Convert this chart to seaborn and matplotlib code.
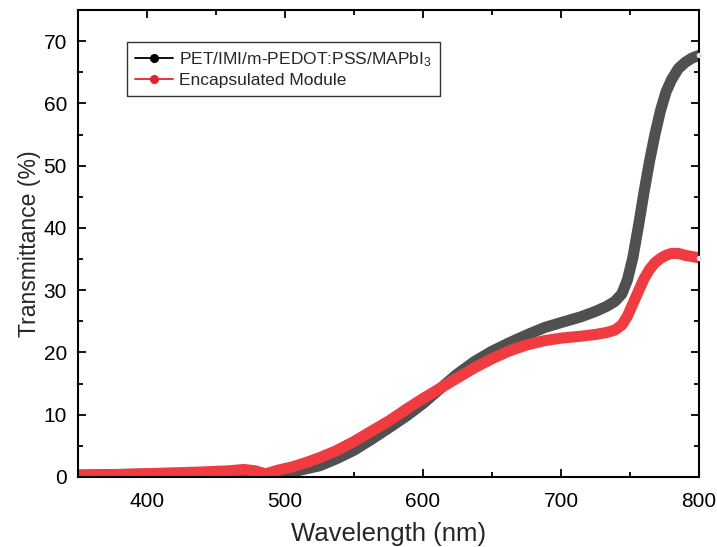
import matplotlib
matplotlib.use("Agg")
import matplotlib.pyplot as plt
from matplotlib.lines import Line2D
import seaborn as sns
import pandas as pd

wavelength = [350, 380, 410, 440, 460, 470, 478, 486, 495, 505, 515, 525, 537, 550,
              563, 576, 588, 600, 612, 624, 637, 650, 662, 675, 688, 700, 714, 725,
              733, 739, 744, 748, 752, 756, 760, 764, 768, 772, 776, 780, 785, 790, 795, 800]
pet_stack = [0.3, 0.4, 0.5, 0.6, 0.7, 0.7, 0.6, 0.4, 0.4, 0.8, 1.3, 1.8, 2.9, 4.3,
             6.1, 8.0, 9.8, 11.8, 14.1, 16.4, 18.5, 20.2, 21.5, 22.8, 24.0, 24.8, 25.7, 26.6,
             27.4, 28.2, 29.4, 31.6, 35.2, 40.2, 45.6, 50.6, 55.0, 58.8, 61.8, 63.8, 65.6, 66.6, 67.3, 67.7]
encapsulated = [0.3, 0.4, 0.6, 0.8, 1.0, 1.2, 1.0, 0.5, 1.1, 1.6, 2.3, 3.1, 4.2, 5.7,
                7.4, 9.1, 10.9, 12.6, 14.2, 15.8, 17.5, 19.0, 20.2, 21.2, 21.9, 22.3, 22.6, 22.9,
                23.2, 23.6, 24.4, 25.8, 27.8, 29.8, 31.8, 33.3, 34.4, 35.1, 35.6, 35.9, 35.9, 35.6, 35.4, 35.2]
series_names = ["PET/IMI/m-PEDOT:PSS/MAPbI$_3$", "Encapsulated Module"]
x_ticks = [400, 500, 600, 700, 800]
y_ticks = [0, 10, 20, 30, 40, 50, 60, 70]

df = pd.DataFrame({
    "Wavelength": wavelength * 2,
    "T": pet_stack + encapsulated,
    "Sample": [series_names[0]] * len(wavelength) + [series_names[1]] * len(wavelength),
})

sns.set_style("ticks")
plt.rcParams["font.family"] = ["Liberation Sans", "DejaVu Sans"]
plt.rcParams["mathtext.fontset"] = "custom"
plt.rcParams["mathtext.rm"] = "Liberation Sans"
plt.rcParams["mathtext.it"] = "Liberation Sans:italic"

fig = plt.figure(figsize=(7.17, 5.47), dpi=100)
ax = fig.add_axes([0.1088, 0.128, 0.8662, 0.8537])

palette = {series_names[0]: "#505050", series_names[1]: "#f03c41"}
sns.lineplot(data=df, x="Wavelength", y="T", hue="Sample", palette=palette,
             linewidth=8, ax=ax, legend=False, solid_capstyle="round",
             solid_joinstyle="round")

# end markers (small light dots)
for s in series_names:
    sub = df[df["Sample"] == s]
    ax.plot(sub["Wavelength"].iloc[-1], sub["T"].iloc[-1], "o", color="#e6e6e6",
            markersize=3, zorder=5, clip_on=False)

ax.set_xlim(350, 800)
ax.set_ylim(0, 75)
ax.set_xticks(x_ticks)
ax.set_yticks(y_ticks)
ax.set_xticks([350, 450, 550, 650, 750], minor=True)
ax.set_yticks([5, 15, 25, 35, 45, 55, 65, 75], minor=True)
ax.tick_params(which="both", direction="in", top=True, right=True, width=1.3, colors="black")
ax.tick_params(which="major", length=6, labelsize=15)
ax.tick_params(axis="y", which="major", pad=8)
ax.tick_params(axis="x", which="major", pad=10.5)
ax.tick_params(which="minor", length=3.5)
for sp in ax.spines.values():
    sp.set_linewidth(1.5)
    sp.set_color("black")
ax.set_xlabel("Wavelength (nm)", fontsize=18.5, labelpad=8)
ax.set_ylabel("Transmittance (%)", fontsize=16.6, labelpad=2)

handles = [Line2D([], [], color="black", marker="o", markersize=5.5, linewidth=1.3),
           Line2D([], [], color="#e8202a", marker="o", markersize=5.5, linewidth=1.3)]
leg = ax.legend(handles, series_names, loc="upper left", bbox_to_anchor=(0.079, 0.931),
                fontsize=12.5, frameon=True, fancybox=False, handlelength=2.2,
                handletextpad=0.35, borderpad=0.45, labelspacing=0.22, borderaxespad=0)
leg.get_frame().set_edgecolor("black")
leg.get_frame().set_linewidth(1.0)

fig.savefig("out.png", dpi=100)
